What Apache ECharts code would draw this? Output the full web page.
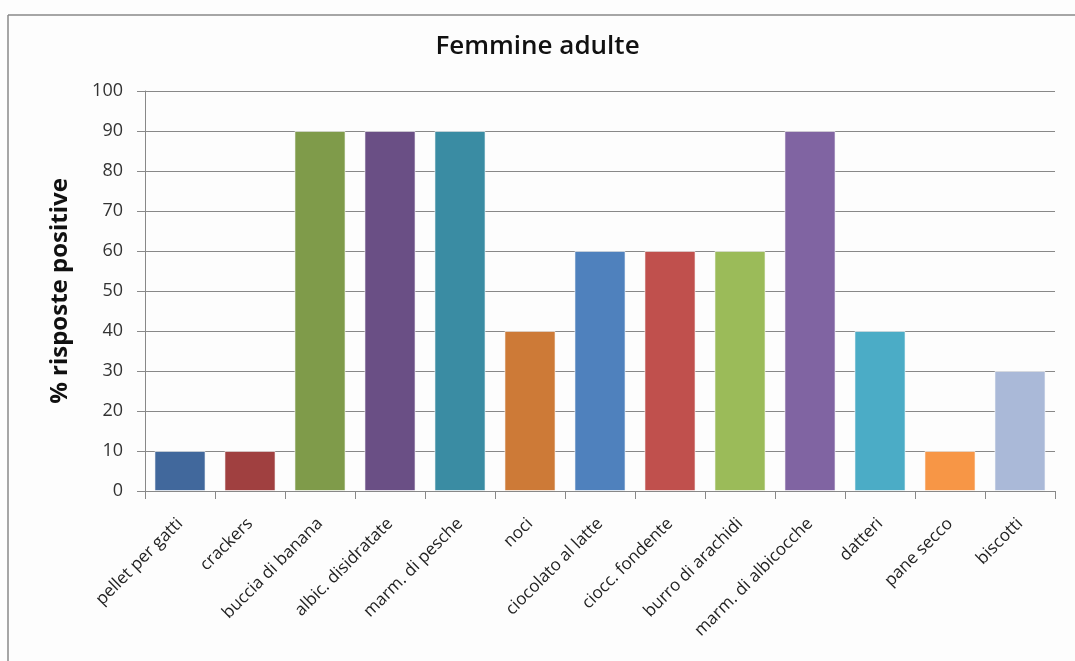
<!DOCTYPE html>
<html>
<head>
<meta charset="utf-8">
<script src="https://cdn.jsdelivr.net/npm/echarts@6/dist/echarts.min.js"></script>
<style>
  html, body { margin: 0; padding: 0; background: #fdfdfd; }
  #chart { width: 1075px; height: 661px; }
</style>
</head>
<body>
<div id="chart"></div>
<script>
// Foods offered and share of positive responses (%) among adult females
const categories = [
  'pellet per gatti', 'crackers', 'buccia di banana', 'albic. disidratate',
  'marm. di pesche', 'noci', 'ciocolato al latte', 'ciocc. fondente',
  'burro di arachidi', 'marm. di albicocche', 'datteri', 'pane secco', 'biscotti'
];
const values = [10, 10, 90, 90, 90, 40, 60, 60, 60, 90, 40, 10, 30];
const barColors = [
  '#41689c', '#a04040', '#7f9b4a', '#6a4f85', '#3a8ca3', '#cd7a37', '#4f81bd',
  '#c0504d', '#9bbb59', '#8064a2', '#4bacc6', '#f79646', '#aab9d8'
];
const yTicks = [0, 10, 20, 30, 40, 50, 60, 70, 80, 90, 100];

const chart = echarts.init(document.getElementById('chart'), null, { renderer: 'canvas' });

chart.setOption({
  backgroundColor: '#fdfdfd',
  animation: false,
  title: {
    text: 'Femmine adulte',
    left: 'center',
    top: 29,
    textStyle: { fontFamily: 'Open Sans', fontSize: 26, fontWeight: 600, color: '#111' }
  },
  graphic: [
    { type: 'line', shape: { x1: 8, y1: 15, x2: 1075, y2: 15 }, style: { stroke: '#888', lineWidth: 1.5 } },
    { type: 'line', shape: { x1: 8, y1: 15, x2: 8, y2: 661 }, style: { stroke: '#888', lineWidth: 1.5 } }
  ],
  grid: { left: 145, right: 20, top: 91, bottom: 170 },
  xAxis: {
    type: 'category',
    data: categories,
    axisLine: { lineStyle: { color: '#888', width: 1 } },
    axisTick: { show: true, length: 8, lineStyle: { color: '#888' } },
    axisLabel: {
      interval: 0,
      rotate: 45,
      margin: 30,
      fontFamily: 'Open Sans',
      fontSize: 17,
      color: '#222'
    }
  },
  yAxis: {
    type: 'value',
    min: 0,
    max: 100,
    interval: 10,
    name: '% risposte positive',
    nameLocation: 'middle',
    nameGap: 73,
    nameRotate: 90,
    nameTextStyle: { fontFamily: 'Open Sans', fontSize: 24, fontWeight: 'bold', color: '#111' },
    axisLine: { show: true, lineStyle: { color: '#888', width: 1 } },
    axisTick: { show: true, length: 8, lineStyle: { color: '#888' } },
    axisLabel: {
      margin: 22,
      fontFamily: 'Open Sans',
      fontSize: 18,
      color: '#333',
      formatter: v => (yTicks.includes(v) ? String(v) : '')
    },
    splitLine: { show: true, lineStyle: { color: '#888', width: 1 } }
  },
  series: [{
    type: 'bar',
    data: values.map((v, i) => ({ value: v, itemStyle: { color: barColors[i] } })),
    barCategoryGap: '27%',
    itemStyle: { borderColor: 'rgba(255,255,255,0.6)', borderWidth: 1 }
  }]
});
</script>
</body>
</html>
